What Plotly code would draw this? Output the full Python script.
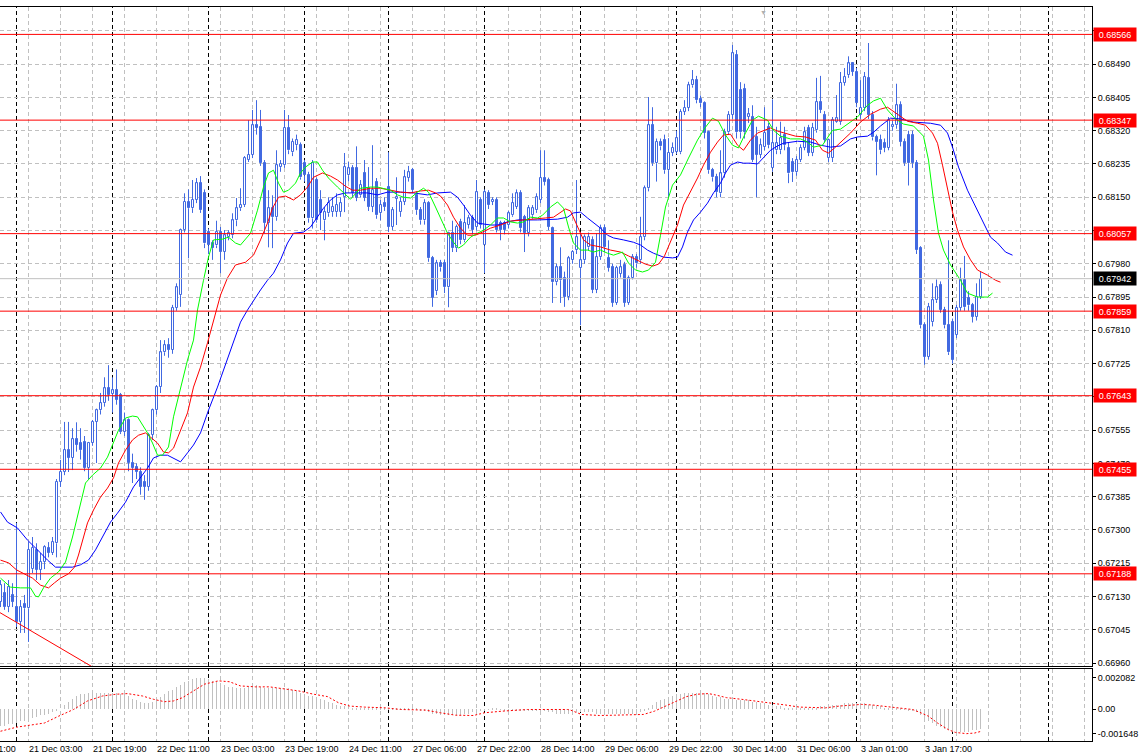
import plotly.graph_objects as go

# ---------------- data ----------------
bar_index = list(range(246))
opens = [
 .67116,.67139,.67103,.67134,.67103,.67065,.67110,.67100,.67200,.67249,
 .67198,.67218,.67254,.67241,.67266,.67423,.67448,.67504,.67484,.67532,
 .67522,.67525,.67458,.67522,.67576,.67606,.67624,.67662,.67648,.67657,
 .67645,.67550,.67581,.67471,.67462,.67448,.67423,.67410,.67543,.67606,
 .67665,.67754,.67772,.67760,.67867,.67900,.68066,.68138,.68122,.68143,
 .68186,.68160,.68061,.68032,.68027,.68061,.68010,.68048,.68053,.68091,
 .68122,.68130,.68245,.68258,.68334,.68329,.68237,.68084,.68122,.68099,
 .68227,.68232,.68327,.68265,.68283,.68283,.68237,.68206,.68096,.68194,
 .68143,.68091,.68109,.68112,.68112,.68112,.68150,.68206,.68224,.68224,
 .68155,.68211,.68173,.68125,.68189,.68109,.68135,.68176,.68074,.68146,
 .68112,.68138,.68199,.68219,.68155,.68117,.68091,.68135,.67994,.67910,
 .67981,.67981,.67920,.68058,.68020,.68086,.68040,.68079,.68096,.68074,
 .68143,.68027,.68160,.68138,.68143,.68084,.68084,.68079,.68104,.68125,
 .68160,.68099,.68058,.68104,.68117,.68143,.68199,.68194,.68071,.67933,
 .67971,.67944,.67895,.67989,.68015,.67969,.67989,.68022,.68040,.67913,
 .67997,.68071,.67994,.67971,.67880,.67955,.67976,.67880,.67944,.67997,
 .67989,.68048,.68173,.68334,.68237,.68291,.68296,.68219,.68263,.68265,
 .68265,.68368,.68378,.68436,.68449,.68400,.68390,.68316,.68219,.68201,
 .68160,.68211,.68316,.68360,.68513,.68424,.68426,.68355,.68355,.68303,
 .68258,.68278,.68329,.68224,.68270,.68270,.68308,.68276,.68240,.68214,
 .68245,.68276,.68327,.68263,.68321,.68393,.68360,.68250,.68250,.68342,
 .68342,.68442,.68462,.68492,.68470,.68360,.68378,.68455,.68360,.68303,
 .68296,.68288,.68276,.68329,.68334,.68385,.68291,.68308,.68308,.68237,
 .68020,.67823,.67742,.67831,.67887,.67926,.67862,.67823,.67831,.67798,
 .67867,.67938,.67893,.67874,.67844,.67895]
highs = [
 .67172,.67164,.67172,.67164,.67318,.67121,.67134,.67269,.67282,.67266,
 .67241,.67261,.67269,.67282,.67430,.67479,.67576,.67576,.67560,.67575,
 .67560,.67540,.67525,.67581,.67610,.67650,.67690,.67721,.67690,.67710,
 .67650,.67600,.67585,.67495,.67470,.67460,.67440,.67548,.67610,.67670,
 .67785,.67785,.67790,.67875,.67930,.68070,.68160,.68170,.68194,.68199,
 .68204,.68170,.68070,.68040,.68090,.68074,.68066,.68066,.68109,.68148,
 .68173,.68255,.68347,.68373,.68398,.68373,.68245,.68168,.68155,.68270,
 .68245,.68373,.68360,.68300,.68310,.68290,.68245,.68215,.68245,.68200,
 .68168,.68125,.68150,.68150,.68160,.68150,.68263,.68240,.68232,.68280,
 .68194,.68245,.68227,.68283,.68199,.68143,.68150,.68265,.68125,.68201,
 .68150,.68220,.68230,.68225,.68165,.68125,.68145,.68140,.68000,.67990,
 .67990,.67990,.68062,.68090,.68080,.68095,.68130,.68105,.68105,.68194,
 .68150,.68170,.68168,.68150,.68150,.68090,.68090,.68115,.68160,.68170,
 .68168,.68105,.68130,.68130,.68160,.68270,.68270,.68200,.68075,.67980,
 .68022,.67960,.68000,.68015,.68194,.68061,.68055,.68060,.68050,.68058,
 .68080,.68080,.68040,.67980,.67975,.67990,.67985,.67950,.68005,.68005,
 .68100,.68180,.68406,.68380,.68300,.68300,.68310,.68301,.68290,.68320,
 .68375,.68398,.68445,.68475,.68460,.68410,.68395,.68320,.68225,.68210,
 .68270,.68325,.68370,.68539,.68526,.68444,.68440,.68378,.68385,.68330,
 .68300,.68380,.68340,.68400,.68330,.68343,.68330,.68290,.68250,.68255,
 .68285,.68330,.68335,.68340,.68455,.68460,.68370,.68300,.68355,.68411,
 .68470,.68480,.68510,.68495,.68480,.68449,.68470,.68544,.68370,.68310,
 .68310,.68300,.68355,.68345,.68440,.68395,.68300,.68320,.68320,.68245,
 .68025,.67830,.67880,.67930,.67940,.67935,.67870,.68040,.67840,.67875,
 .67970,.68000,.67910,.67880,.67930,.67960]
lows = [
 .67103,.67096,.67090,.67103,.67052,.67037,.67037,.67014,.67190,.67172,
 .67172,.67200,.67230,.67236,.67230,.67410,.67440,.67448,.67453,.67500,
 .67480,.67450,.67430,.67515,.67471,.67595,.67615,.67630,.67600,.67620,
 .67545,.67540,.67450,.67420,.67430,.67390,.67377,.67400,.67530,.67595,
 .67650,.67745,.67740,.67750,.67860,.67870,.68060,.67994,.68110,.68135,
 .68110,.68020,.68005,.67990,.68020,.67956,.67990,.68040,.68045,.68076,
 .68115,.68125,.68240,.68250,.68310,.68230,.68058,.68022,.68020,.68090,
 .68215,.68225,.68260,.68255,.68270,.68195,.68190,.68085,.68070,.68085,
 .68066,.68040,.68100,.68100,.68100,.68100,.68112,.68190,.68150,.68140,
 .68150,.68140,.68115,.68112,.68095,.68091,.68115,.68061,.68066,.68079,
 .68100,.68130,.68190,.68160,.68105,.68080,.68080,.67985,.67870,.67900,
 .67960,.67905,.67869,.68010,.68010,.68030,.68035,.68070,.68055,.68065,
 .68070,.67956,.68120,.68130,.68060,.68040,.68055,.68070,.68100,.68120,
 .68060,.68010,.68050,.68095,.68110,.68135,.68180,.68066,.67880,.67925,
 .67880,.67870,.67887,.67980,.68005,.67823,.67980,.68015,.67905,.67905,
 .67990,.68010,.67960,.67870,.67875,.67945,.67870,.67875,.67940,.67970,
 .67980,.68040,.68165,.68230,.68190,.68270,.68210,.68150,.68255,.68260,
 .68260,.68360,.68370,.68430,.68390,.68380,.68300,.68210,.68190,.68150,
 .68150,.68200,.68310,.68350,.68300,.68300,.68300,.68340,.68240,.68150,
 .68250,.68270,.68275,.68215,.68260,.68260,.68270,.68186,.68189,.68205,
 .68240,.68270,.68255,.68255,.68315,.68365,.68290,.68240,.68240,.68340,
 .68335,.68435,.68455,.68460,.68380,.68350,.68370,.68350,.68295,.68206,
 .68260,.68265,.68270,.68320,.68325,.68280,.68230,.68180,.68225,.68005,
 .67815,.67722,.67735,.67820,.67880,.67855,.67815,.67747,.67725,.67790,
 .67860,.67860,.67860,.67830,.67835,.67890]
closes = [
 .67159,.67103,.67154,.67116,.67065,.67103,.67100,.67249,.67254,.67198,
 .67218,.67256,.67241,.67269,.67423,.67448,.67504,.67484,.67532,.67517,
 .67504,.67458,.67522,.67576,.67606,.67624,.67662,.67645,.67657,.67632,
 .67550,.67581,.67471,.67458,.67448,.67410,.67410,.67543,.67606,.67665,
 .67754,.67772,.67760,.67867,.67920,.68066,.68138,.68122,.68143,.68186,
 .68117,.68032,.68027,.68020,.68061,.68010,.68053,.68058,.68091,.68122,
 .68130,.68250,.68258,.68334,.68327,.68237,.68084,.68122,.68099,.68232,
 .68235,.68327,.68270,.68291,.68296,.68201,.68206,.68096,.68237,.68091,
 .68109,.68112,.68135,.68125,.68130,.68135,.68227,.68224,.68160,.68148,
 .68181,.68148,.68125,.68168,.68104,.68130,.68125,.68074,.68117,.68150,
 .68138,.68201,.68214,.68168,.68117,.68091,.68135,.67994,.67893,.67981,
 .67971,.67920,.68058,.68020,.68074,.68040,.68084,.68096,.68066,.68163,
 .68079,.68163,.68130,.68143,.68066,.68066,.68066,.68109,.68135,.68160,
 .68071,.68058,.68122,.68122,.68150,.68199,.68189,.68074,.67933,.67971,
 .67938,.67895,.67994,.68010,.68048,.67989,.68048,.68048,.67913,.67997,
 .68071,.68022,.67969,.67880,.67969,.67971,.67880,.67944,.67997,.67981,
 .68048,.68173,.68334,.68237,.68291,.68280,.68219,.68263,.68276,.68301,
 .68368,.68378,.68436,.68449,.68398,.68390,.68314,.68219,.68201,.68163,
 .68211,.68316,.68360,.68518,.68316,.68316,.68316,.68362,.68245,.68258,
 .68283,.68314,.68283,.68288,.68288,.68301,.68283,.68211,.68214,.68245,
 .68276,.68316,.68263,.68327,.68393,.68373,.68296,.68296,.68347,.68352,
 .68442,.68457,.68492,.68470,.68390,.68378,.68457,.68360,.68303,.68291,
 .68270,.68276,.68347,.68334,.68385,.68291,.68237,.68237,.68237,.68015,
 .67823,.67742,.67869,.67887,.67920,.67862,.67823,.67754,.67734,.67867,
 .67938,.67869,.67874,.67844,.67895,.67942]

# Alligator lines: (bar, price)
lips = [(0,.67177),(2.5,.67154),(5,.67152),(7.5,.67152),(8.75,.67131),(9.5,.67129),(10.75,.67152),(12.5,.67177),
 (14.5,.67193),(16.25,.67218),(18,.67282),(19.5,.67343),(21.25,.67420),(23,.67440),(25,.67458),(26.75,.67486),
 (28.25,.67525),(29.5,.67555),(31.25,.67586),(33,.67591),(34.25,.67589),(35.5,.67568),(36.75,.67548),(38,.67522),
 (39.25,.67491),(40.5,.67491),(42,.67512),(43.25,.67589),(45,.67665),(46.75,.67734),(48.25,.67785),(49.25,.67862),
 (50.75,.67938),(52,.67997),(53.25,.68041),(55.5,.68043),(57,.68048),(58.75,.68033),(60,.68028),(62.5,.68058),
 (64.25,.68117),(65.75,.68176),(67,.68212),(68.25,.68219),(69.5,.68186),(70.75,.68163),(72,.68168),(73.75,.68186),
 (75,.68212),(76.25,.68227),(78,.68240),(79.25,.68240),(80.5,.68219),(82,.68199),(84.25,.68176),(85.75,.68161),
 (87.5,.68145),(90,.68173),(92.5,.68176),(94.25,.68176),(95.75,.68173),(97.5,.68168),(99.25,.68156),(100.75,.68150),
 (102.5,.68148),(104.25,.68163),(105.75,.68173),(107,.68163),(108.75,.68125),(110.5,.68087),(111.75,.68058),
 (113.25,.68035),(114.5,.68020),(115.75,.68028),(117.5,.68048),(119.25,.68058),(120.75,.68066),(122.5,.68079),
 (124.25,.68097),(125.75,.68097),(127.5,.68087),(129.25,.68084),(130.75,.68087),(132.5,.68099),(134.25,.68097),
 (135.5,.68104),(137.5,.68125),(139.25,.68138),(140.75,.68122),(142,.68074),(143.25,.68033),(145,.68015),
 (146.75,.68015),(148.25,.68010),(150,.68015),(151.75,.68007),(153.25,.68002),(155.5,.68010),(157,.67982),
 (158.75,.67964),(160.5,.67959),(162,.67964),(163.75,.67984),(165,.68053),(166.25,.68125),(168,.68181),
 (170,.68207),(172,.68250),(174.25,.68296),(176.25,.68329),(178,.68352),(179.5,.68344),(181.25,.68309),
 (183,.68283),(184.5,.68276),(186.25,.68314),(188,.68347),(189.5,.68357),(191.75,.68347),(193.25,.68321),
 (195,.68306),(197.5,.68299),(200,.68299),(201.75,.68291),(203.25,.68278),(205.5,.68283),(208,.68321),
 (210,.68324),(211.75,.68337),(214.25,.68355),(216.75,.68385),(218.25,.68396),(220,.68403),(221.75,.68373),
 (223.75,.68350),(225.75,.68337),(228.25,.68332),(230.75,.68306),(232,.68245),(233.25,.68143),(234.5,.68058),
 (235.75,.68015),(237.5,.67977),(240,.67938),(241.75,.67905),(244.25,.67895),(246.75,.67895),(248,.67905)]
teeth = [(0,.67223),(2,.67216),(4,.67198),(6,.67188),(8,.67177),(10,.67159),(12,.67152),(13.5,.67165),(15,.67177),
 (17,.67188),(18.5,.67205),(19.5,.67236),(20.5,.67274),(21.75,.67318),(23.25,.67351),(25,.67384),(26.75,.67407),
 (28.25,.67433),(29.5,.67471),(31.25,.67504),(33,.67530),(34.5,.67542),(36.25,.67548),(37.5,.67537),(39.25,.67522),
 (40.75,.67499),(42,.67497),(43.25,.67509),(45,.67555),(46.75,.67599),(48.25,.67665),(50,.67716),(51.75,.67778),
 (53.25,.67836),(55,.67900),(56.75,.67944),(58.75,.67977),(61.25,.67984),(63.25,.68002),(65,.68041),(66.75,.68084),
 (68,.68122),(69.5,.68150),(71.25,.68153),(73.25,.68143),(75,.68156),(76.75,.68176),(78.25,.68201),(80.5,.68212),
 (82.5,.68204),(84.25,.68194),(86.25,.68178),(88,.68168),(90,.68168),(92.5,.68173),(95,.68173),(97.5,.68168),
 (100,.68163),(102.5,.68161),(105,.68166),(107,.68168),(108.75,.68161),(110,.68153),(111.75,.68130),(113.25,.68099),
 (115,.68071),(116.75,.68053),(118.75,.68053),(120.5,.68061),(122.5,.68071),(125,.68079),(127.5,.68089),
 (130.75,.68092),(133.75,.68094),(136.25,.68097),(138.25,.68099),(140,.68112),(141.25,.68120),(142.5,.68115),
 (144.25,.68076),(145.75,.68041),(147.5,.68028),(150,.68023),(152.5,.68015),(155,.68010),(157,.68000),
 (159.25,.67990),(161.25,.67979),(163,.67974),(164.5,.67979),(166,.68000),(167.5,.68035),(169.25,.68079),
 (170.75,.68130),(172.5,.68163),(174.25,.68199),(175.75,.68232),(177.5,.68265),(179.25,.68291),(180.75,.68309),
 (182.5,.68311),(184.25,.68283),(185.75,.68270),(187.5,.68296),(189.25,.68314),(191,.68321),(192.5,.68327),
 (194.25,.68319),(196.25,.68314),(198.75,.68306),(201.25,.68304),(203.75,.68296),(205.5,.68270),(207,.68263),
 (208.75,.68278),(210.75,.68296),(212.5,.68314),(215,.68342),(217.5,.68362),(220,.68375),(221.75,.68380),
 (224.25,.68362),(226.75,.68344),(229.25,.68339),(231.25,.68334),(233,.68314),(234.25,.68288),(235.5,.68232),
 (236.75,.68168),(238,.68112),(239.25,.68066),(240.75,.68023),(242.5,.67990),(244.25,.67964),(246.75,.67951),
 (248.75,.67938),(250,.67933)]
jaw = [(0,.67346),(1.75,.67320),(4.25,.67305),(6.75,.67274),(9.25,.67249),(11.75,.67223),(13.75,.67205),(15.75,.67205),
 (18,.67205),(20,.67211),(22,.67223),(23.75,.67249),(25.5,.67282),(27.5,.67320),(29.25,.67343),(31.25,.67371),
 (33.25,.67410),(35,.67433),(36.75,.67458),(38.25,.67484),(40,.67491),(41.75,.67491),(43.25,.67484),(45,.67474),
 (46.75,.67497),(48.25,.67517),(50,.67548),(52,.67606),(54.25,.67665),(56.25,.67721),(58.25,.67778),(60,.67831),
 (61.75,.67862),(63.25,.67887),(65,.67913),(66.75,.67938),(68.25,.67956),(70,.67990),(71.75,.68033),(73.25,.68058),
 (75.75,.68061),(77.5,.68074),(79.25,.68099),(80.75,.68122),(82.5,.68143),(84.25,.68156),(86.25,.68161),
 (88.25,.68161),(91.75,.68161),(94.25,.68156),(96.75,.68163),(100,.68163),(103.25,.68161),(106.75,.68156),
 (109.25,.68161),(112.5,.68163),(114.25,.68150),(115.75,.68130),(117.5,.68104),(119.25,.68084),(122.5,.68079),
 (124.25,.68079),(126.75,.68087),(129.25,.68092),(134.25,.68092),(139.25,.68094),(141.75,.68099),(143.25,.68110),
 (145,.68112),(146.75,.68097),(148.25,.68084),(150,.68071),(151.75,.68053),(153.25,.68046),(155.75,.68041),
 (158.25,.68035),(160,.68028),(161.75,.68015),(163.25,.68007),(165.75,.67997),(168,.67995),(169.25,.67997),
 (170.5,.68023),(171.75,.68061),(173.25,.68092),(175,.68112),(176.75,.68135),(178.25,.68161),(180,.68186),
 (181.25,.68212),(182.5,.68232),(184.25,.68240),(185.75,.68237),(187.5,.68237),(189.25,.68235),(190.75,.68252),
 (192.5,.68270),(194.25,.68281),(195.75,.68288),(199.25,.68293),(202.5,.68291),(205,.68283),(207.5,.68278),
 (210,.68281),(212.5,.68299),(214.25,.68304),(216.75,.68306),(218.25,.68316),(220,.68332),(222.5,.68352),
 (225,.68350),(228.25,.68342),(232.5,.68339),(235,.68334),(236.75,.68314),(238,.68278),(239.5,.68227),
 (241.75,.68168),(243.75,.68125),(245.75,.68084),(247.5,.68048),(249.25,.68033),(251.25,.68010),(253,.68002)]

# MACD main (histogram), one value per bar
macd_hist = [
 -.0011,-.0011,-.0010,-.0010,-.0009,-.0008,-.0008,-.0007,-.0006,-.0005,
 -.0004,-.0004,-.0003,-.0002,-.0001,.0000,.0003,.0005,.0007,.0009,
 .0010,.0010,.0011,.0011,.0011,.0011,.0011,.0011,.0011,.0011,
 .0010,.0010,.0009,.0007,.0006,.0005,.0004,.0004,.0005,.0006,
 .0008,.0010,.0012,.0013,.0015,.0016,.0018,.0019,.0020,.0021,
 .0021,.0021,.0020,.0019,.0018,.0017,.0016,.0015,.0015,.0014,
 .0014,.0014,.0015,.0016,.0016,.0015,.0014,.0014,.0014,.0014,
 .0014,.0014,.0014,.0013,.0012,.0011,.0010,.0009,.0009,.0008,
 .0007,.0006,.0005,.0004,.0003,.0002,.0002,.0002,.0001,.0001,
 .0001,.0001,.0001,.00003,.00003,.00002,.00002,.00002,.00003,.00003,
 .0001,.0001,.0001,.00003,.00002,-.0001,-.0001,-.0002,-.0003,-.0003,
 -.0004,-.0004,-.0004,-.0004,-.0004,-.0004,-.0003,-.0003,-.0002,-.0002,
 -.0001,-.0001,-.00003,.00002,.00002,-.00003,-.0001,-.0001,-.0001,-.0001,
 -.0001,-.0001,-.0001,-.0001,-.0001,-.0001,-.0001,-.0002,-.0002,-.0003,
 -.0003,-.0003,-.0003,-.0002,-.0002,-.0002,-.0002,-.0002,-.0002,-.0003,
 -.0003,-.0003,-.0003,-.0003,-.0003,-.0003,-.0003,-.0003,-.0003,-.0002,
 -.0002,-.0001,.0001,.0003,.0005,.0006,.0007,.0008,.0009,.0010,
 .0010,.0011,.0011,.0011,.0011,.0011,.0011,.0010,.0009,.0008,
 .0008,.0007,.0007,.0007,.0006,.0006,.0006,.0006,.0005,.0005,
 .0004,.0004,.0003,.0003,.0002,.0002,.0001,.0001,.00003,.00002,
 .00002,.00003,.00003,.0001,.0001,.0002,.0002,.0002,.0003,.0003,
 .0003,.0004,.0004,.0004,.0004,.0004,.0004,.0003,.0003,.0002,
 .0002,.0001,.0001,.0001,.00003,.00002,-.00003,-.0001,-.0001,-.0002,
 -.0004,-.0006,-.0008,-.0009,-.0011,-.0012,-.0013,-.0014,-.0015,-.0015,
 -.0015,-.0015,-.0015,-.0014,-.0014,-.0013]
# MACD signal line (bar, value)
macd_signal = [(0,-.00148),(4,-.00121),(7.25,-.00108),(11,-.00093),(14.5,-.00048),(18.25,-.00003),(21.75,.00054),
 (25.5,.00087),(29,.00099),(31.75,.00103),(35.5,.00087),(38.25,.00065),(41,.00049),(43.25,.00054),(45.5,.00076),
 (48.25,.00121),(51,.00166),(54.5,.00188),(57.25,.00182),(60,.00154),(63.75,.00148),(67.25,.00148),(71,.00136),
 (74.5,.00121),(78.25,.00099),(81.75,.00083),(84.5,.00042),(87.25,.00020),(91,.00013),(96.25,.00008),(100,-.00003),
 (106.25,-.00007),(110,-.00025),(113.75,-.00041),(118.25,-.00043),(121,-.00025),(125.5,-.00014),(131.75,-.00003),
 (141.75,-.00003),(142.5,-.00007),(145.25,-.00036),(149.75,-.00043),(153.5,-.00041),(157,-.00041),(160.75,-.00036),
 (163.5,-.00014),(166.25,.00020),(168.75,.00054),(171.5,.00083),(174.25,.00099),(177,.00103),(178.75,.00094),
 (181.5,.00076),(185.25,.00065),(188.75,.00054),(192.5,.00042),(196.25,.00027),(199.75,.00013),(206.25,.00008),
 (209.75,.00020),(212.5,.00027),(215.25,.00031),(218,.00027),(221.5,.00015),(225.25,.00004),(228,-.00003),
 (229.75,-.00021),(232,-.00048),(234.25,-.00093),(237,-.00138),(238.75,-.00156),(241.5,-.00164),(243.5,-.00160),
 (245.25,-.00148)]

price_ticks = [0.66960,0.67045,0.67130,0.67215,0.67300,0.67385,0.67470,0.67555,0.67640,0.67725,
               0.67810,0.67895,0.67980,0.68065,0.68150,0.68235,0.68320,0.68405,0.68490,0.68575]
levels = [0.68566, 0.68347, 0.68057, 0.67859, 0.67643, 0.67455, 0.67188]
bid_price = 0.67942
trend_x = [-1, 25]
trend_y = [0.67094, 0.66938]
day_start_bars = [4, 28, 52, 76, 97, 121, 145, 169, 193, 214, 238, 262]
first_label = "20 Dec 11:00"          # only its tail is visible at the left edge
time_label_bars = [7, 23, 39, 55, 71, 87, 103, 119, 135, 151, 167, 183, 199, 215, 231]
time_labels = ["21 Dec 03:00", "21 Dec 19:00", "22 Dec 11:00", "23 Dec 03:00",
               "23 Dec 19:00", "24 Dec 11:00", "27 Dec 06:00", "27 Dec 22:00", "28 Dec 14:00",
               "29 Dec 06:00", "29 Dec 22:00", "30 Dec 14:00", "31 Dec 06:00", "3 Jan 01:00", "3 Jan 17:00"]
macd_ticks = [0.002082, 0.0, -0.001648]
macd_ticktext = ["0.002082", "0.00", "-0.001648"]

assert len(opens) == len(highs) == len(lows) == len(closes) == len(macd_hist) == len(bar_index)

# ---------------- figure ----------------
BLUE = "#4169E1"
FONT = "Liberation Sans"
GRID = "#C0C0C0"
XR = [-0.125, 272.875]
grid_bars = list(range(-1, 273, 8))

fig = go.Figure()

# wicks (upper and lower parts so hollow bodies stay white inside)
wx, wy = [], []
for i, o, h, l, c in zip(bar_index, opens, highs, lows, closes):
    top, bot = max(o, c), min(o, c)
    wx += [i, i, None, i, i, None]
    wy += [h, top, None, bot, l, None]
fig.add_trace(go.Scatter(x=wx, y=wy, mode="lines", line=dict(color=BLUE, width=1),
                         xaxis="x", yaxis="y", showlegend=False, hoverinfo="skip"))

# bodies
for bull, fill in ((True, "white"), (False, BLUE)):
    bx, bb, bh = [], [], []
    for i, o, c in zip(bar_index, opens, closes):
        if (c >= o) == bull:
            bx.append(i)
            bb.append(min(o, c))
            bh.append(abs(c - o))
    fig.add_trace(go.Bar(x=bx, y=bh, base=bb, width=0.5,
                         marker=dict(color=fill, line=dict(color=BLUE, width=1)),
                         xaxis="x", yaxis="y", showlegend=False, hoverinfo="skip"))

for pts, col in ((jaw, "#0000FF"), (teeth, "#FF0000"), (lips, "#00FF00")):
    fig.add_trace(go.Scatter(x=[p[0] for p in pts], y=[p[1] for p in pts], mode="lines",
                             line=dict(color=col, width=1), xaxis="x", yaxis="y",
                             showlegend=False, hoverinfo="skip"))

fig.add_trace(go.Scatter(x=trend_x, y=trend_y, mode="lines", line=dict(color="#FF0000", width=1),
                         xaxis="x", yaxis="y", showlegend=False, hoverinfo="skip"))

fig.add_trace(go.Bar(x=bar_index, y=macd_hist, width=0.25, marker=dict(color=GRID, line=dict(width=0)),
                     xaxis="x2", yaxis="y2", showlegend=False, hoverinfo="skip"))
fig.add_trace(go.Scatter(x=[p[0] for p in macd_signal], y=[p[1] for p in macd_signal], mode="lines",
                         line=dict(color="#FF0000", width=1, dash="2px,2px"),
                         xaxis="x2", yaxis="y2", showlegend=False, hoverinfo="skip"))

shapes = []
for b in day_start_bars:
    for yr in ("y domain", "y2 domain"):
        shapes.append(dict(type="line", xref="x", yref=yr, x0=b, x1=b, y0=0, y1=1, layer="below",
                           line=dict(color="black", width=1, dash="4px,3px")))
for lv in levels:
    shapes.append(dict(type="line", xref="paper", yref="y", x0=0, x1=1, y0=lv, y1=lv,
                       line=dict(color="#FF0000", width=1)))
shapes.append(dict(type="line", xref="paper", yref="y", x0=0, x1=1, y0=bid_price, y1=bid_price,
                   line=dict(color=GRID, width=1)))

annotations = []
for lv in levels:
    annotations.append(dict(xref="paper", yref="y", x=1, y=lv, xanchor="left", yanchor="middle",
                            xshift=1, text=f"{lv:.5f}", showarrow=False, bgcolor="#FF0000",
                            font=dict(family=FONT, size=9, color="white"), width=40, height=11,
                            borderpad=1, align="center"))
annotations.append(dict(xref="paper", yref="y", x=1, y=bid_price, xanchor="left", yanchor="middle",
                        xshift=1, text=f"{bid_price:.5f}", showarrow=False, bgcolor="black",
                        font=dict(family=FONT, size=9, color="white"), width=40, height=11,
                        borderpad=1, align="center"))
for b, t in zip(time_label_bars, time_labels):
    annotations.append(dict(xref="x2", yref="paper", x=b, y=0, xanchor="left", yanchor="top",
                            xshift=-2, yshift=-1, text=t, showarrow=False,
                            font=dict(family=FONT, size=9, color="black")))
annotations.append(dict(xref="paper", yref="paper", x=0, y=0, xanchor="right", yanchor="top",
                        xshift=18, yshift=-1, text=first_label, showarrow=False,
                        font=dict(family=FONT, size=9, color="black")))
annotations.append(dict(xref="paper", yref="paper", x=763 / 1092, y=1, xanchor="center", yanchor="top",
                        text="▼", showarrow=False, font=dict(size=7, color="#B0B0B0")))

axis_common = dict(showline=True, mirror=True, linecolor="black", linewidth=1, zeroline=False)
fig.update_layout(
    width=1140, height=756, margin=dict(l=0, r=48, t=7, b=15, pad=0),
    paper_bgcolor="white", plot_bgcolor="white",
    font=dict(family=FONT, size=9, color="black"),
    showlegend=False, barmode="overlay", bargap=0, hovermode=False,
    xaxis=dict(domain=[0, 1], anchor="y", range=XR, tickvals=grid_bars,
               showticklabels=False, ticks="", showgrid=True, gridcolor=GRID, griddash="4px,3px",
               **axis_common),
    yaxis=dict(domain=[0.1022, 1], anchor="x", side="right", range=[0.669525, 0.68636],
               tickvals=price_ticks, ticktext=[f"{v:.5f}" for v in price_ticks],
               ticks="outside", ticklen=3, tickcolor="black",
               tickfont=dict(family=FONT, size=9, color="black"),
               showgrid=True, gridcolor=GRID, griddash="4px,3px", **axis_common),
    xaxis2=dict(domain=[0, 1], anchor="y2", matches="x", range=XR, tickvals=grid_bars,
                showticklabels=False, ticks="", showgrid=True, gridcolor=GRID, griddash="4px,3px",
                **axis_common),
    yaxis2=dict(domain=[0, 0.0981], anchor="x2", side="right", range=[-0.00213, 0.00267],
                tickvals=macd_ticks, ticktext=macd_ticktext, ticks="outside", ticklen=3,
                tickcolor="black", tickfont=dict(family=FONT, size=9, color="black"),
                showgrid=False, **axis_common),
    shapes=shapes, annotations=annotations,
)

fig.write_html("out.html", config={"displayModeBar": False},
               post_script="document.body.style.margin='0';document.body.style.padding='0';")
